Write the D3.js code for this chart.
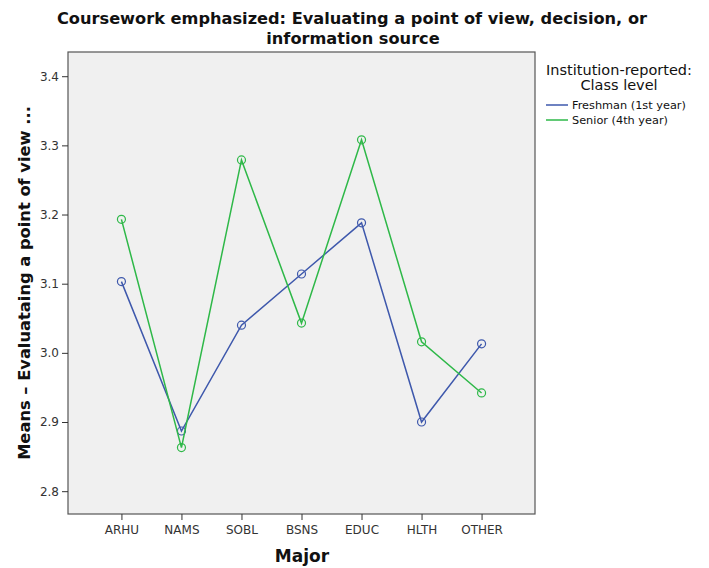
<!DOCTYPE html>
<html>
<head>
<meta charset="utf-8">
<script src="https://cdn.jsdelivr.net/npm/d3@7"></script>
<style>
  body { margin: 0; background: #fff; }
  svg { display: block; font-family: "DejaVu Sans", sans-serif; }
</style>
</head>
<body>
<script>
// categories (Major) and mean values per class level
const majors = ["ARHU", "NAMS", "SOBL", "BSNS", "EDUC", "HLTH", "OTHER"];
const freshman = [3.103, 2.887, 3.040, 3.114, 3.188, 2.900, 3.013];
const senior = [3.193, 2.863, 3.279, 3.043, 3.308, 3.016, 2.942];
const yTicks = [2.8, 2.9, 3.0, 3.1, 3.2, 3.3, 3.4];
const seriesNames = ["Freshman (1st year)", "Senior (4th year)"];
const colors = ["#3e58ac", "#2eb848"];

const width = 709, height = 568;
// plot frame
const plotLeft = 68, plotRight = 535, plotTop = 52, plotBottom = 514;

const svg = d3.select("body").append("svg")
    .attr("width", width)
    .attr("height", height);

const x = d3.scalePoint()
    .domain(majors)
    .range([plotLeft, plotRight])
    .padding(0.89);

const y = d3.scaleLinear()
    .domain([2.767, 3.435])
    .range([plotBottom, plotTop]);

// plot background
svg.append("rect")
    .attr("x", plotLeft).attr("y", plotTop)
    .attr("width", plotRight - plotLeft).attr("height", plotBottom - plotTop)
    .attr("fill", "#f0f0f0")
    .attr("stroke", "#555")
    .attr("stroke-width", 1.2);

// axes
const yAxis = svg.append("g")
    .attr("transform", `translate(${plotLeft},0)`)
    .call(d3.axisLeft(y).tickValues(yTicks).tickFormat(d3.format(".1f")).tickSize(6).tickPadding(3));
const xAxis = svg.append("g")
    .attr("transform", `translate(0,${plotBottom})`)
    .call(d3.axisBottom(x).tickSize(6).tickPadding(5));
[yAxis, xAxis].forEach(a => {
  a.select(".domain").remove();
  a.selectAll("line").attr("stroke", "#333");
  a.selectAll("text").attr("fill", "#333").style("font-size", "12px")
      .style("font-family", "'DejaVu Sans', sans-serif");
});

// lines and markers
const line = d3.line()
    .x((d, i) => x(majors[i]))
    .y(d => y(d));

[freshman, senior].forEach((vals, k) => {
  svg.append("path")
      .datum(vals)
      .attr("fill", "none")
      .attr("stroke", colors[k])
      .attr("stroke-width", 1.5)
      .attr("d", line);
  svg.append("g").selectAll("circle")
    .data(vals)
    .join("circle")
      .attr("cx", (d, i) => x(majors[i]))
      .attr("cy", d => y(d))
      .attr("r", 4)
      .attr("fill", "none")
      .attr("stroke", colors[k])
      .attr("stroke-width", 1.2);
});

// title
const title = svg.append("text")
    .attr("text-anchor", "middle")
    .attr("font-weight", "bold")
    .attr("font-size", 16.2)
    .attr("fill", "#111");
title.append("tspan").attr("x", 352).attr("y", 24).text("Coursework emphasized: Evaluating a point of view, decision, or");
title.append("tspan").attr("x", 353).attr("y", 44).text("information source");

// axis titles
svg.append("text")
    .attr("x", 302).attr("y", 562)
    .attr("text-anchor", "middle")
    .attr("font-weight", "bold")
    .attr("font-size", 17)
    .attr("fill", "#111")
    .text("Major");

svg.append("text")
    .attr("transform", `translate(30,${(plotTop + plotBottom) / 2}) rotate(-90)`)
    .attr("text-anchor", "middle")
    .attr("font-weight", "bold")
    .attr("font-size", 16.3)
    .attr("fill", "#111")
    .text("Means – Evaluataing a point of view ...");

// legend
const legend = svg.append("g");
legend.append("text")
    .attr("text-anchor", "middle")
    .attr("font-size", 14.5)
    .attr("fill", "#111")
    .selectAll("tspan")
    .data(["Institution-reported:", "Class level"])
    .join("tspan")
      .attr("x", 619)
      .attr("y", (d, i) => 75 + i * 15)
      .text(d => d);

const li = legend.selectAll("g.item")
  .data(seriesNames)
  .join("g")
    .attr("class", "item")
    .attr("transform", (d, i) => `translate(546,${105 + i * 15})`);
li.append("line")
    .attr("x1", 0).attr("x2", 22)
    .attr("stroke", (d, i) => colors[i])
    .attr("stroke-width", 1.5);
li.append("text")
    .attr("x", 26).attr("dy", "0.35em")
    .attr("font-size", 11.3)
    .attr("fill", "#111")
    .text(d => d);
</script>
</body>
</html>
